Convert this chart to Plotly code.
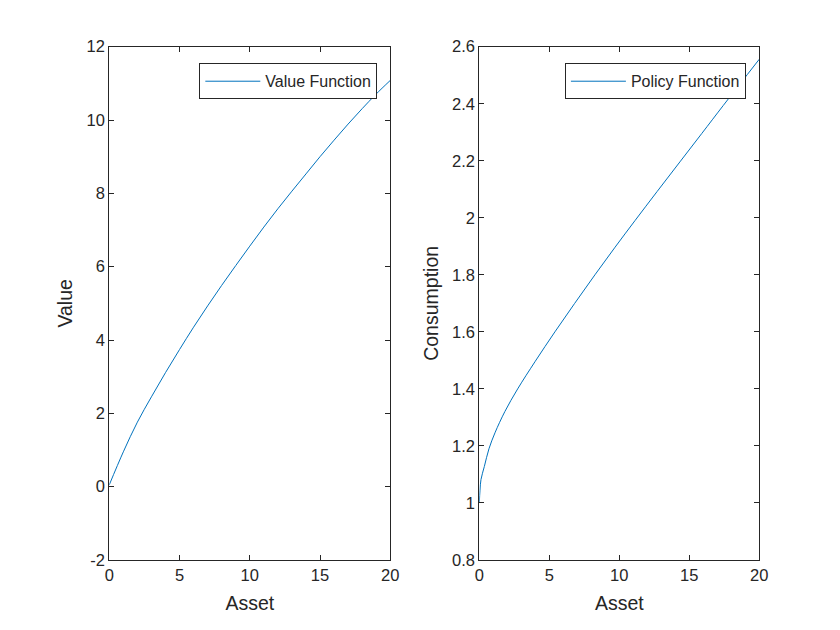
import plotly.graph_objects as go

# Value function readings (asset, value)
asset_v = [0, 1, 2, 3, 4, 5, 6, 7, 8, 9, 10, 11, 12, 13, 14, 15, 16, 17, 18, 19, 20]
value_v = [0.05, 0.95, 1.76, 2.45, 3.11, 3.74, 4.35, 4.93, 5.49, 6.03, 6.56, 7.08, 7.58, 8.06,
           8.53, 9.0, 9.45, 9.89, 10.31, 10.71, 11.08]

# Policy function readings (asset, consumption)
asset_p = [0, 0.05, 0.12, 0.36, 0.69, 1.12, 1.83, 2.74, 4, 5.4, 6.8, 8.26, 9.7, 11.12,
           12.7, 14.33, 15.9, 17.43, 20]
cons_p = [1.0, 1.045, 1.082, 1.128, 1.19, 1.246, 1.321, 1.4, 1.497, 1.6, 1.699, 1.8, 1.897,
          1.99, 2.092, 2.196, 2.296, 2.394, 2.556]

x_ticks = [0, 5, 10, 15, 20]
y1_ticks = [-2, 0, 2, 4, 6, 8, 10, 12]
y1_labels = ["-2", "0", "2", "4", "6", "8", "10", "12"]
y2_ticks = [0.8, 1, 1.2, 1.4, 1.6, 1.8, 2, 2.2, 2.4, 2.6]
y2_labels = ["0.8", "1", "1.2", "1.4", "1.6", "1.8", "2", "2.2", "2.4", "2.6"]

BLUE = "#0072BD"
AX = "#262626"
FONT = "Liberation Sans, Arial, Helvetica, sans-serif"

fig = go.Figure()
fig.add_trace(go.Scatter(x=asset_v, y=value_v, mode="lines", name="Value Function",
                         line=dict(color=BLUE, width=1, shape="spline"), xaxis="x", yaxis="y",
                         legend="legend"))
fig.add_trace(go.Scatter(x=asset_p, y=cons_p, mode="lines", name="Policy Function",
                         line=dict(color=BLUE, width=1, shape="spline"), xaxis="x2", yaxis="y2",
                         legend="legend2"))

axis_common = dict(showline=True, linecolor=AX, linewidth=1, mirror="ticks",
                   ticks="inside", ticklen=5, tickcolor=AX, tickwidth=1,
                   showgrid=False, zeroline=False, automargin=False,
                   tickfont=dict(family=FONT, size=16.5, color=AX))
title_font = dict(family=FONT, size=19.5, color=AX)

legend_common = dict(xanchor="right", yanchor="top", bordercolor=AX, borderwidth=1,
                     bgcolor="white", itemwidth=55,
                     font=dict(family=FONT, size=16, color=AX))

fig.update_layout(
    width=840, height=630,
    margin=dict(l=0, r=0, t=0, b=0),
    paper_bgcolor="white", plot_bgcolor="white",
    font=dict(family=FONT, color=AX),
    xaxis=dict(domain=[0.1301, 0.4646], range=[0, 20], tickvals=x_ticks,
               title=dict(text="Asset", font=title_font, standoff=13), anchor="y", **axis_common),
    yaxis=dict(domain=[0.1111, 0.9259], range=[-2, 12], tickvals=y1_ticks, ticktext=y1_labels,
               title=dict(text="Value", font=title_font, standoff=8), anchor="x", **axis_common),
    xaxis2=dict(domain=[0.5706, 0.9039], range=[0, 20], tickvals=x_ticks,
                title=dict(text="Asset", font=title_font, standoff=13), anchor="y2", **axis_common),
    yaxis2=dict(domain=[0.1111, 0.9259], range=[0.8, 2.6], tickvals=y2_ticks, ticktext=y2_labels,
                title=dict(text="Consumption", font=title_font, standoff=8), anchor="x2", **axis_common),
    legend=dict(x=0.4492, y=0.8995, **legend_common),
    legend2=dict(x=0.888, y=0.8995, **legend_common),
    showlegend=True,
)

fig.write_html("out.html")
